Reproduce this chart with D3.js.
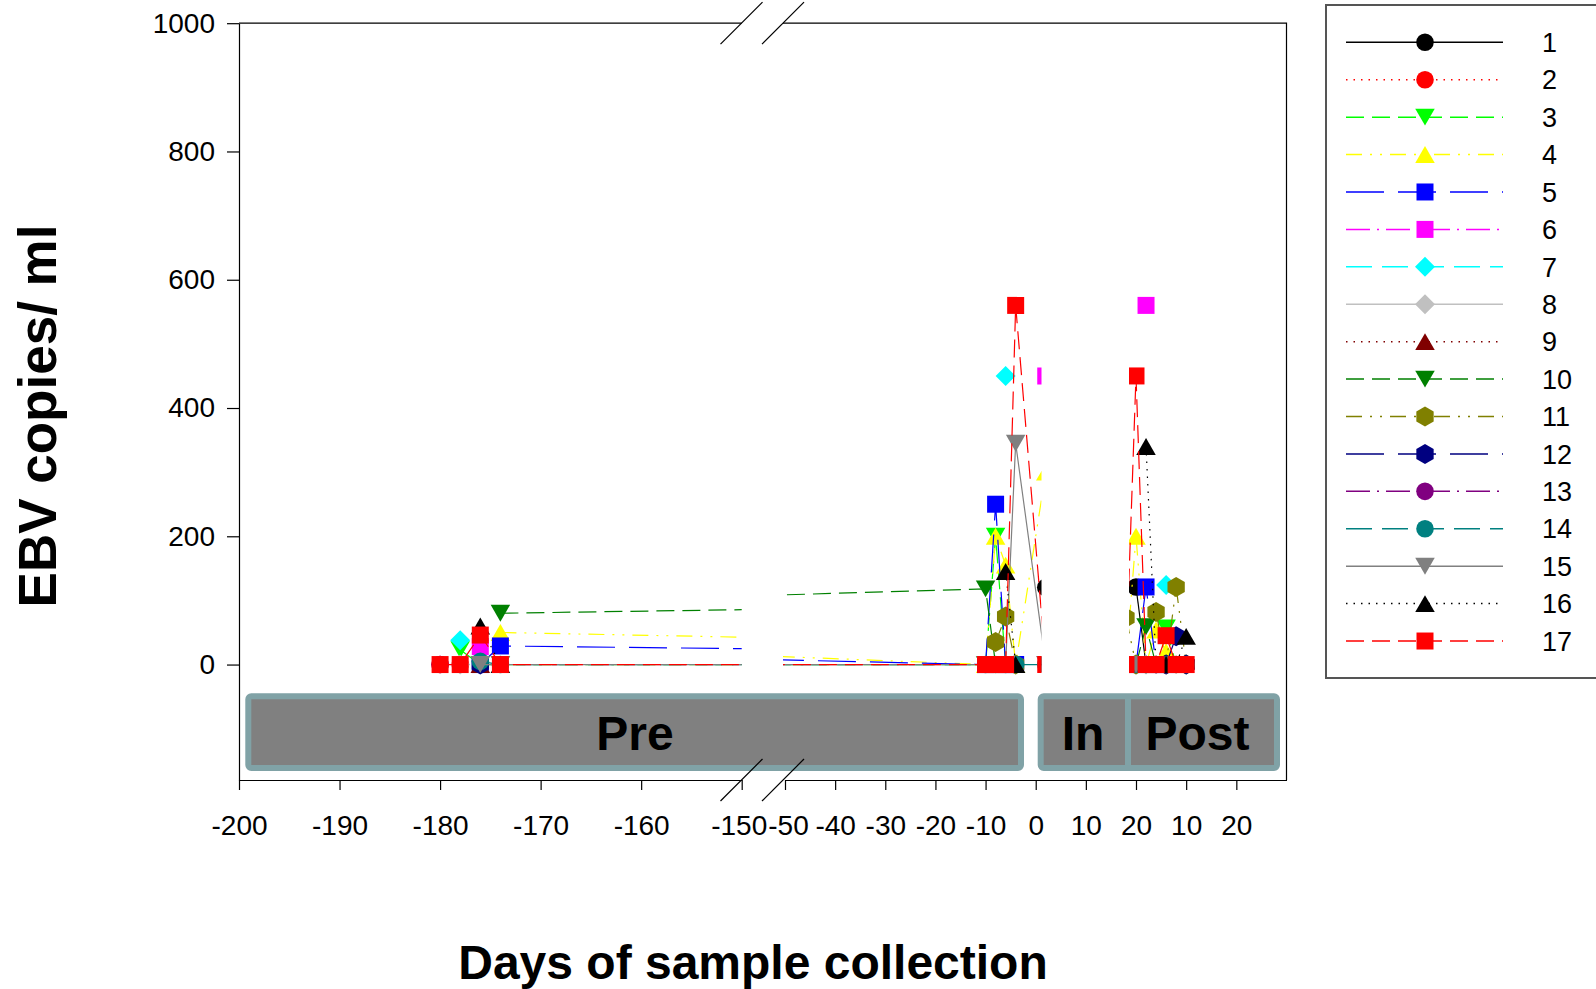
<!DOCTYPE html>
<html>
<head>
<meta charset="utf-8">
<script src="https://cdn.jsdelivr.net/npm/d3@7"></script>
<style>
  body { margin: 0; background: #fff; }
  svg { display: block; font-family: 'Liberation Sans', Arial, sans-serif; }
</style>
</head>
<body>
<svg id="chart" width="1596" height="989"></svg>
<script>
// ---- data ----
const seriesNames = ['1', '2', '3', '4', '5', '6', '7', '8', '9', '10', '11', '12', '13', '14', '15', '16', '17'];

// pre-treatment and peri-treatment days (same axis, broken between -150 and -50)
const preMidDays = [-180, -178, -176, -174, -10, -8, -6, -4, 2];
const preMidValues = [
  [null, null, null, null, null, null, null, null, 120],
  [0, 0, null, null, null, null, null, null, null],
  [null, 23, 0, 0, 0, 200, 0, null, null],
  [null, null, null, 50, 0, 200, 155, 0, 300],
  [null, null, 0, 29, 0, 250, 0, 0, null],
  [null, null, 28, null, null, null, null, null, 450],
  [null, 38, null, null, null, null, 450, null, null],
  [null, 0, null, null, null, null, null, null, null],
  [null, null, 0, null, null, null, null, null, null],
  [null, null, null, 80, 118, 0, null, null, null],
  [null, null, null, null, null, 35, 75, 0, null],
  [null, null, 0, null, null, null, null, null, null],
  [0, null, null, null, null, null, null, null, null],
  [null, null, 5, 0, 0, 0, 0, 0, 0],
  [null, null, 0, 0, 0, 0, 0, 345, 0],
  [null, null, 60, 0, null, null, 145, 0, null],
  [0, 0, 46, 0, 0, 0, 0, 560, 0],
];

// post-treatment days (own axis segment)
const postDays = [-2, 0, 2, 4, 6, 8, 10];
const postValues = [
  [null, 121, 0, null, null, null, null],
  [null, 0, 0, 0, 0, 0, 0],
  [null, null, 0, null, 57, 0, null],
  [0, 200, 0, 54, 20, 0, null],
  [null, 0, 121, 0, 0, null, null],
  [null, null, 560, null, null, null, null],
  [null, null, null, null, 124, null, null],
  [null, 0, 0, null, null, null, null],
  [null, null, 0, 0, null, null, null],
  [null, 0, 59, 0, null, null, null],
  [73, 0, null, 82, 0, 121, 0],
  [null, null, null, null, 0, 44, 0],
  [null, null, null, 0, 0, null, null],
  [null, 0, 0, 0, 0, 0, 0],
  [null, 0, 0, null, null, null, null],
  [null, null, 340, 0, 0, 0, 44],
  [0, 450, 0, 0, 45, 0, 0],
];

const yTicks = [0, 200, 400, 600, 800, 1000];
const xTicksPre = [-200, -190, -180, -170, -160, -150];
const xTicksMid = [-50, -40, -30, -20, -10, 0, 10, 20];
const xTicksPost = [10, 20];
const phaseLabels = ['Pre', 'In', 'Post'];

// ---- styles ----
const colors = ['#000000', '#ff0000', '#00ff00', '#ffff00', '#0000ff', '#ff00ff', '#00ffff', '#c0c0c0',
  '#800000', '#008000', '#808000', '#000080', '#800080', '#008080', '#808080', '#000000', '#ff0000'];
const markers = ['circle', 'circle', 'triDown', 'triUp', 'square', 'square', 'diamond', 'diamond',
  'triUp', 'triDown', 'hexagon', 'hexagon', 'circle', 'circle', 'triDown', 'triUp', 'square'];
const dashes = [null, '1.5 6', '18 8', '16 8 2 8 2 8', '38 14', '24 7 2 7', '26 10', null,
  '1.5 6', '18 8', '16 8 2 8 2 8', '38 14', '24 7 2 7', '26 10', null, '1.5 6', '18 8'];

const triangle = {
  draw(ctx, size) {
    const s = Math.sqrt(size / (Math.sqrt(3) / 4));
    const h = s * Math.sqrt(3) / 2;
    ctx.moveTo(0, -h / 2);
    ctx.lineTo(s / 2, h / 2);
    ctx.lineTo(-s / 2, h / 2);
    ctx.closePath();
  },
};
const hexagon = {
  draw(ctx, size) {
    const r = Math.sqrt(size / (1.5 * Math.sqrt(3)));
    for (let k = 0; k < 6; k++) {
      const a = Math.PI / 3 * k - Math.PI / 2;
      if (k) ctx.lineTo(r * Math.cos(a), r * Math.sin(a));
      else ctx.moveTo(r * Math.cos(a), r * Math.sin(a));
    }
    ctx.closePath();
  },
};
const symbolTypes = { circle: d3.symbolCircle, square: d3.symbolSquare, diamond: d3.symbolSquare,
  triUp: triangle, triDown: triangle, hexagon };
const symbolSizes = { circle: 243, square: 289, diamond: 200, triUp: 165, triDown: 165, hexagon: 260 };
const symbolRotate = { diamond: 45, triDown: 180 };

const svg = d3.select('#chart');

// ---- scales ----
const y = d3.scaleLinear().domain([-180, 1000]).range([780, 23.2]);
const xPre = d3.scaleLinear().domain([-200, -150]).range([239, 741.7]);
const xMid = d3.scaleLinear().domain([-50, 20]).range([785, 1136]);
const xPost = d3.scaleLinear().domain([0, 30]).range([1136, 1286.5]);

const defs = svg.append('defs');
const clips = [
  { id: 'clip-pre', x0: 239, x1: 741.7 },
  { id: 'clip-mid', x0: 783, x1: 1041.5 },
  { id: 'clip-post', x0: 1129, x1: 1286.5 },
];
clips.forEach(c => {
  defs.append('clipPath').attr('id', c.id)
    .append('rect')
    .attr('x', c.x0).attr('y', 23)
    .attr('width', c.x1 - c.x0).attr('height', 757);
});

// ---- phase boxes ----
const boxStroke = '#80a2a6';
const boxFill = '#808080';
svg.append('rect')
  .attr('x', 248.3).attr('y', 696.3).attr('width', 772.7).attr('height', 71.7)
  .attr('rx', 3).attr('fill', boxFill).attr('stroke', boxStroke).attr('stroke-width', 6);
svg.append('rect')
  .attr('x', 1040.7).attr('y', 696.3).attr('width', 236.3).attr('height', 71.7)
  .attr('rx', 3).attr('fill', boxFill).attr('stroke', boxStroke).attr('stroke-width', 6);
svg.append('line')
  .attr('x1', 1128).attr('x2', 1128).attr('y1', 696.3).attr('y2', 768)
  .attr('stroke', boxStroke).attr('stroke-width', 6);
svg.selectAll('.phase')
  .data(phaseLabels)
  .join('text')
  .attr('class', 'phase')
  .attr('x', (d, i) => [635, 1083, 1197.5][i])
  .attr('y', 750)
  .attr('text-anchor', 'middle')
  .attr('font-size', 48)
  .attr('font-weight', 'bold')
  .text(d => d);

// ---- data ----
const lineGen = xs => d3.line()
  .defined(d => d.v != null)
  .x(d => xs(d.day))
  .y(d => y(d.v));

function symbolPath(kind) {
  return d3.symbol(symbolTypes[kind], symbolSizes[kind])();
}

const panels = [
  { xs: xPre, clip: 'clip-pre', days: preMidDays, vals: preMidValues },
  { xs: xMid, clip: 'clip-mid', days: preMidDays, vals: preMidValues },
  { xs: xPost, clip: 'clip-post', days: postDays, vals: postValues },
];

panels.forEach(p => {
  const g = svg.append('g').attr('clip-path', `url(#${p.clip})`);
  p.vals.forEach((row, i) => {
    const pts = row.map((v, k) => ({ day: p.days[k], v }));
    const sg = g.append('g');
    sg.append('path')
      .datum(pts)
      .attr('d', lineGen(p.xs))
      .attr('fill', 'none')
      .attr('stroke', colors[i])
      .attr('stroke-width', 1.2)
      .attr('stroke-dasharray', dashes[i]);
    sg.selectAll('path.m')
      .data(pts.filter(d => d.v != null))
      .join('path')
      .attr('class', 'm')
      .attr('d', symbolPath(markers[i]))
      .attr('transform', d => `translate(${p.xs(d.day)},${y(d.v)}) rotate(${symbolRotate[markers[i]] || 0})`)
      .attr('fill', colors[i]);
  });
});

// ---- axes ----
const axisFont = 28;
const plain = d => String(d);
const yAxis = svg.append('g')
  .attr('transform', 'translate(239,0)')
  .call(d3.axisLeft(y).tickValues(yTicks).tickFormat(plain)
    .tickSize(12).tickSizeOuter(0).tickPadding(12));

const xAxes = [
  [xPre, xTicksPre],
  [xMid, xTicksMid],
  [xPost, xTicksPost],
].map(([xs, ticks]) => svg.append('g')
  .attr('transform', 'translate(0,780)')
  .call(d3.axisBottom(xs).tickValues(ticks).tickFormat(plain)
    .tickSize(10).tickSizeOuter(0).tickPadding(25)));

[yAxis, ...xAxes].forEach(a => {
  a.selectAll('path, line').attr('stroke', '#000').attr('stroke-width', 1.2);
  a.selectAll('text').attr('font-size', axisFont).attr('fill', '#000')
    .attr('font-family', "'Liberation Sans', Arial, sans-serif");
});

// the -150 and -50 labels sit at the break, nudge them apart a little
xAxes[0].selectAll('.tick text').filter(d => d === -150).attr('dx', -3);
xAxes[1].selectAll('.tick text').filter(d => d === -50).attr('dx', 3);

// frame: top and right
svg.append('path')
  .attr('d', `M239,23.2H741.7M783,23.2H1286.5V780`)
  .attr('fill', 'none')
  .attr('stroke', '#000')
  .attr('stroke-width', 1.2);

// axis break marks
[23.2, 780].forEach(yy => {
  [741.5, 783].forEach(xx => {
    svg.append('line')
      .attr('x1', xx - 21).attr('y1', yy + 21)
      .attr('x2', xx + 21).attr('y2', yy - 21)
      .attr('stroke', '#000').attr('stroke-width', 1.2);
  });
});

// ---- titles ----
svg.append('text')
  .attr('transform', 'translate(56,416) rotate(-90)')
  .attr('text-anchor', 'middle')
  .attr('font-size', 53)
  .attr('font-weight', 'bold')
  .text('EBV copies/ ml');

svg.append('text')
  .attr('x', 753)
  .attr('y', 979)
  .attr('text-anchor', 'middle')
  .attr('font-size', 48)
  .attr('font-weight', 'bold')
  .text('Days of sample collection');

// ---- legend ----
const legend = svg.append('g');
legend.append('rect')
  .attr('x', 1326).attr('y', 5).attr('width', 272).attr('height', 673)
  .attr('fill', '#fff').attr('stroke', '#555').attr('stroke-width', 2);

const rowY = i => 42.3 + i * 37.42;
const rows = legend.selectAll('g.row')
  .data(seriesNames)
  .join('g')
  .attr('class', 'row')
  .attr('transform', (d, i) => `translate(0,${rowY(i)})`);
rows.append('line')
  .attr('x1', 1346).attr('x2', 1503)
  .attr('stroke', (d, i) => colors[i])
  .attr('stroke-width', 1.5)
  .attr('stroke-dasharray', (d, i) => dashes[i]);
rows.append('path')
  .attr('d', (d, i) => symbolPath(markers[i]))
  .attr('transform', (d, i) => `translate(1425,0) rotate(${symbolRotate[markers[i]] || 0})`)
  .attr('fill', (d, i) => colors[i]);
rows.append('text')
  .attr('x', 1542)
  .attr('dy', '0.36em')
  .attr('font-size', 27)
  .text(d => d);
</script>
</body>
</html>
